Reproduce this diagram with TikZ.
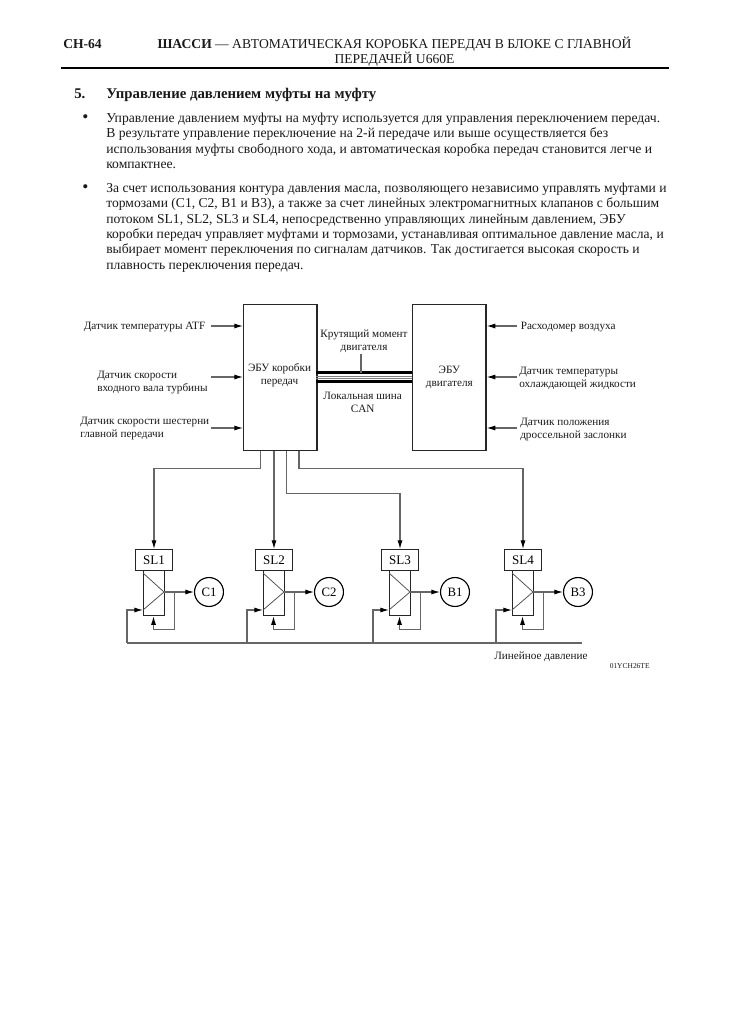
\documentclass[tikz,border=0pt]{standalone}
\usepackage{fontspec}
\setmainfont{Liberation Serif}
\usetikzlibrary{arrows.meta}
\tikzset{
  x=0.75pt,y=-0.75pt,
  txt/.style={inner sep=0pt,text=black!90},
  bodytxt/.style={txt,anchor=base west,font=\fontsize{10.24}{11.5}\selectfont},
  bullet/.style={txt,anchor=center,font=\fontsize{13}{13}\selectfont},
  labf/.style={txt,font=\fontsize{8.4}{9.7}\selectfont},
  lab/.style={labf,yshift=-1.1pt},
  box/.style={draw=black!85,line width=1pt,fill=white,inner sep=0pt},
  wire/.style={draw=black!60,line width=0.8pt},
  arr/.style={wire,-{Latex[length=6.5pt,width=3.8pt,black]}},
  thinl/.style={draw=black!70,line width=0.55pt},
  bus/.style={draw=black,line width=2.1pt},
  busthin/.style={draw=black!50,line width=0.55pt}
}
\begin{document}
\begin{tikzpicture}
\useasboundingbox (0,0) rectangle (731,1035);
% header
\node[txt,anchor=base west,font=\fontsize{10.2}{12}\selectfont\bfseries] (page) at (63,48) {СН-64};
\node[txt,anchor=base,font=\fontsize{10.2}{12}\selectfont] (title1) at (394.5,48) {\textbf{ШАССИ} — АВТОМАТИЧЕСКАЯ КОРОБКА ПЕРЕДАЧ В БЛОКЕ С ГЛАВНОЙ};
\node[txt,anchor=base,font=\fontsize{10.2}{12}\selectfont] (title2) at (394.5,63.5) {ПЕРЕДАЧЕЙ U660E};
\coordinate (ruleA) at (61,67.5);
\coordinate (ruleB) at (669,67.5);
\draw[line width=1.5pt,black] (ruleA) -- (ruleB);
\node[txt,anchor=base west,font=\fontsize{11.1}{12}\selectfont\bfseries] (num) at (74,98) {5.};
\node[txt,anchor=base west,font=\fontsize{11.1}{12}\selectfont\bfseries] (head) at (106,98) {Управление давлением муфты на муфту};
% body
\node[bullet] (b0) at (85.5,119) {•};
\node[bodytxt] (l1) at (106,122.5) {Управление давлением муфты на муфту используется для управления переключением передач.};
\node[bodytxt] (l2) at (106,137.8) {В результате управление переключение на 2-й передаче или выше осуществляется без};
\node[bodytxt] (l3) at (106,153.1) {использования муфты свободного хода, и автоматическая коробка передач становится легче и};
\node[bodytxt] (l4) at (106,168.4) {компактнее.};
\node[bullet] (b1) at (85.5,189) {•};
\node[bodytxt,font=\fontsize{10.19}{11.5}\selectfont] (m1) at (106,192.5) {За счет использования контура давления масла, позволяющего независимо управлять муфтами и};
\node[bodytxt,font=\fontsize{10.19}{11.5}\selectfont] (m2) at (106,207.8) {тормозами (C1, C2, B1 и B3), а также за счет линейных электромагнитных клапанов с большим};
\node[bodytxt,font=\fontsize{10.19}{11.5}\selectfont] (m3) at (106,223.1) {потоком SL1, SL2, SL3 и SL4, непосредственно управляющих линейным давлением, ЭБУ};
\node[bodytxt,font=\fontsize{10.19}{11.5}\selectfont] (m4) at (106,238.4) {коробки передач управляет муфтами и тормозами, устанавливая оптимальное давление масла, и};
\node[bodytxt,font=\fontsize{10.19}{11.5}\selectfont] (m5) at (106,253.7) {выбирает момент переключения по сигналам датчиков. Так достигается высокая скорость и};
\node[bodytxt,font=\fontsize{10.19}{11.5}\selectfont] (m6) at (106,269) {плавность переключения передач.};
% ECUs
\node[box,anchor=north west,minimum width=55pt,minimum height=109.5pt] (tcu) at (243,304) {};
\node[box,anchor=north west,minimum width=55pt,minimum height=109.5pt,labf,align=center] (ecm) at (412,304) {ЭБУ\\двигателя};
\node[lab,align=center] (tcutxt) at (279.5,374) {ЭБУ коробки\\передач};
% left sensors
\node[lab,anchor=west] (s1) at (83.5,326) {Датчик температуры ATF};
\node[lab,anchor=west,align=left] (s2) at (97,381) {Датчик скорости\\входного вала турбины};
\node[lab,anchor=west,align=left] (s3) at (80,427) {Датчик скорости шестерни\\главной передачи};
\coordinate (a1) at (211,326);
\coordinate (a2) at (211,377);
\coordinate (a3) at (211,428);
\foreach \c in {a1,a2,a3} \draw[arr] (\c) -- (\c -| tcu.west);
% right sensors
\node[lab,anchor=west] (r1) at (520.5,326) {Расходомер воздуха};
\node[lab,anchor=west,align=left] (r2) at (519,377) {Датчик температуры\\охлаждающей жидкости};
\node[lab,anchor=west,align=left] (r3) at (520,428.5) {Датчик положения\\дроссельной заслонки};
\coordinate (c1) at (517,326);
\coordinate (c2) at (517,377);
\coordinate (c3) at (517,428);
\foreach \c in {c1,c2,c3} \draw[arr] (\c) -- (\c -| ecm.east);
% bus
\coordinate (busA) at (316,372.8);
\coordinate (busB) at (316,381.7);
\coordinate (busC) at (316,376);
\coordinate (busD) at (316,378.6);
\draw[bus] (busA) -- (busA -| ecm.west);
\draw[bus] (busB) -- (busB -| ecm.west);
\draw[busthin] (busC) -- (busC -| ecm.west);
\draw[busthin] (busD) -- (busD -| ecm.west);
\node[lab,align=center] (torque) at (364,340) {Крутящий момент\\двигателя};
\node[lab,align=center] (can) at (362.7,400.5) {Локальная шина\\CAN};
\coordinate (tick) at (361,354);
\draw[wire] (tick) -- (tick |- busA);
% valves
\coordinate (pA) at (127,643);
\coordinate (pB) at (581.5,643);
\foreach \n/\lab/\cl/\dx in {1/SL1/C1/0,2/SL2/C2/120,3/SL3/B1/246,4/SL4/B3/369}{
  \begin{scope}[shift={(\dx,0)}]
    \node[box,anchor=north west,minimum width=15.75pt,minimum height=34pt] (body\n) at (143,569.5) {};
    \node[box,anchor=north west,minimum width=27.5pt,minimum height=15.75pt,font=\fontsize{9.8}{12}\selectfont] (sl\n) at (135,549) {\lab};
    \node[draw=black,line width=0.85pt,circle,minimum size=21.7pt,inner sep=0pt,fill=white,font=\fontsize{9.6}{12}\selectfont] (cl\n) at (209,592) {\cl};
    \coordinate (tA\n) at (143,573);
    \coordinate (tB\n) at (143,610);
    \coordinate (tC\n) at (164,592);
    \draw[thinl] (tA\n) -- (tC\n) -- (tB\n);
    \coordinate (fb\n) at (174.5,592);
    \coordinate (fbD\n) at (174.5,629.7);
    \coordinate (fbL\n) at (153.5,629.7);
    \draw[arr] (tC\n) -- (cl\n.west);
    \draw[arr] (fb\n) -- (fbD\n) -- (fbL\n) -- (fbL\n |- body\n.south);
    \coordinate (feed\n) at (127,643);
    \coordinate (feedT\n) at (127,610);
    \draw[arr] (feed\n) -- (feedT\n) -- (tB\n);
  \end{scope}
}
\draw[wire,line width=1pt] (pA) -- (pB);
\node[labf,anchor=base west] (lp) at (494,659) {Линейное давление};
\node[txt,anchor=base west,font=\fontsize{5.6}{6}\selectfont] (code) at (609.5,668.5) {01YCH26TE};
% control lines
\coordinate (o1) at (260.3,468.3);
\coordinate (o3) at (286.3,493.3);
\coordinate (o4) at (299,468.3);
\draw[arr] (o1 |- tcu.south) -- (o1) -- (o1 -| sl1.north) -- (sl1.north);
\draw[arr] (sl2.north |- tcu.south) -- (sl2.north);
\draw[arr] (o3 |- tcu.south) -- (o3) -- (o3 -| sl3.north) -- (sl3.north);
\draw[arr] (o4 |- tcu.south) -- (o4) -- (o4 -| sl4.north) -- (sl4.north);
\end{tikzpicture}
\end{document}
